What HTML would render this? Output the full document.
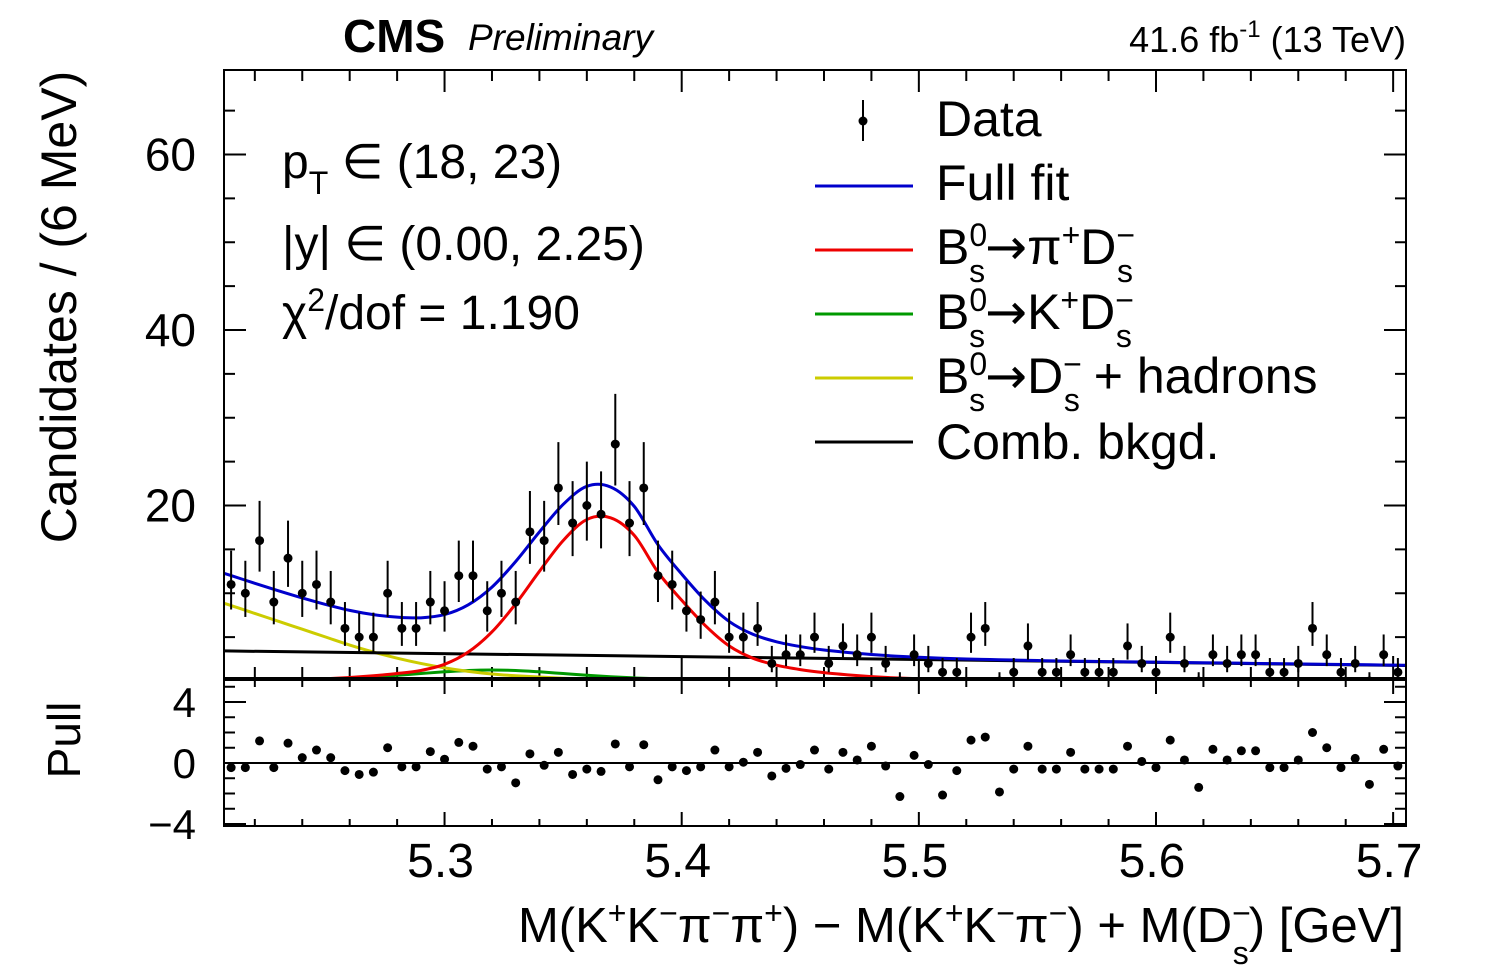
<!DOCTYPE html>
<html><head><meta charset="utf-8"><style>
body{margin:0;background:#fff;}
svg{display:block;font-family:"Liberation Sans",sans-serif;}
.arr{font-family:"DejaVu Sans",sans-serif;}
</style></head><body>
<svg id="chart" width="1496" height="972" viewBox="0 0 1496 972">
<defs><clipPath id="clipMain"><rect x="224" y="70" width="1182" height="608"/></clipPath>
<clipPath id="clipPull"><rect x="224" y="680" width="1182" height="146"/></clipPath></defs>
<g id="axes"></g>
<g id="curves" clip-path="url(#clipMain)"></g>
<g id="points" clip-path="url(#clipMain)"></g>
<g id="pulls" clip-path="url(#clipPull)"></g>
<rect x="224" y="70" width="1182" height="608" fill="none" stroke="#000" stroke-width="2"/>
<rect x="224" y="680" width="1182" height="146" fill="none" stroke="#000" stroke-width="2"/>
<line x1="224" y1="763" x2="1406" y2="763" stroke="#000" stroke-width="2"/>
<text x="343" y="52" font-size="46" font-weight="bold">CMS</text>
<text x="468" y="50" font-size="37" font-style="italic">Preliminary</text>
<text x="1406" y="52" font-size="36" text-anchor="end">41.6 fb<tspan dy="-15" font-size="24">-1</tspan><tspan dy="15"> (13 TeV)</tspan></text>
<text transform="translate(76,307) rotate(-90)" font-size="50" text-anchor="middle">Candidates / (6 MeV)</text>
<text transform="translate(80,740) rotate(-90)" font-size="46" text-anchor="middle">Pull</text>
<text x="1404" y="942" font-size="49" text-anchor="end">M(K<tspan dy="-18" font-size="32">+</tspan><tspan dy="18">K</tspan><tspan dy="-18" font-size="32">−</tspan><tspan dy="18">π</tspan><tspan dy="-18" font-size="32">−</tspan><tspan dy="18">π</tspan><tspan dy="-18" font-size="32">+</tspan><tspan dy="18">) − M(K</tspan><tspan dy="-18" font-size="32">+</tspan><tspan dy="18">K</tspan><tspan dy="-18" font-size="32">−</tspan><tspan dy="18">π</tspan><tspan dy="-18" font-size="32">−</tspan><tspan dy="18">) + M(D</tspan><tspan dy="-18" font-size="32">−</tspan><tspan dx="-18" dy="40" font-size="32">s</tspan><tspan dy="-22">) [GeV]</tspan></text>
<g font-size="48">
<text x="282" y="178">p<tspan dy="16" font-size="32">T</tspan><tspan dy="-16"> ∈ (18, 23)</tspan></text>
<text x="282" y="260">|y| ∈ (0.00, 2.25)</text>
<text x="282" y="329">χ<tspan dy="-18" font-size="32">2</tspan><tspan dy="18">/dof = 1.190</tspan></text>
</g>
<g font-size="50">
<g><line x1="863" y1="100" x2="863" y2="141" stroke="#000" stroke-width="2"/><circle cx="863" cy="121" r="4.5"/><text x="936" y="136">Data</text></g>
<g><line x1="815" y1="186" x2="913" y2="186" stroke="#0000cc" stroke-width="3"/><text x="936" y="200">Full fit</text></g>
<g><line x1="815" y1="250" x2="913" y2="250" stroke="#ee0000" stroke-width="3"/><text x="936" y="264">B<tspan dy="-18" font-size="32">0</tspan><tspan dx="-18" dy="36" font-size="32">s</tspan><tspan dy="-18" class="arr">→</tspan><tspan>π</tspan><tspan dy="-18" font-size="32">+</tspan><tspan dy="18">D</tspan><tspan dy="-18" font-size="32">−</tspan><tspan dx="-18" dy="36" font-size="32">s</tspan></text></g>
<g><line x1="815" y1="314" x2="913" y2="314" stroke="#009900" stroke-width="3"/><text x="936" y="329">B<tspan dy="-18" font-size="32">0</tspan><tspan dx="-18" dy="36" font-size="32">s</tspan><tspan dy="-18" class="arr">→</tspan><tspan>K</tspan><tspan dy="-18" font-size="32">+</tspan><tspan dy="18">D</tspan><tspan dy="-18" font-size="32">−</tspan><tspan dx="-18" dy="36" font-size="32">s</tspan></text></g>
<g><line x1="815" y1="378" x2="913" y2="378" stroke="#cccc00" stroke-width="3"/><text x="936" y="393">B<tspan dy="-18" font-size="32">0</tspan><tspan dx="-18" dy="36" font-size="32">s</tspan><tspan dy="-18" class="arr">→</tspan><tspan>D</tspan><tspan dy="-18" font-size="32">−</tspan><tspan dx="-18" dy="36" font-size="32">s</tspan><tspan dy="-18"> + hadrons</tspan></text></g>
<g><line x1="815" y1="442" x2="913" y2="442" stroke="#000" stroke-width="3"/><text x="936" y="459">Comb. bkgd.</text></g>
</g>
</svg>
<script>
const counts=[11,10,16,9,14,10,11,9,6,5,5,10,6,6,9,8,12,12,8,10,9,17,16,22,18,20,19,27,18,22,12,11,8,7,9,5,5,6,2,3,3,5,2,4,3,5,2,0,3,2,1,1,5,6,0,1,4,1,1,3,1,1,1,4,2,1,5,2,0,3,2,3,3,1,1,2,6,3,1,2,0,3,1];
const pulls=[-0.3,-0.3,1.45,-0.3,1.3,0.35,0.85,0.35,-0.5,-0.75,-0.6,1.0,-0.25,-0.25,0.75,0.25,1.35,1.1,-0.4,-0.25,-1.3,0.6,-0.15,0.7,-0.75,-0.4,-0.55,1.25,-0.25,1.2,-1.1,-0.25,-0.5,-0.25,0.85,-0.25,0.05,0.7,-0.85,-0.35,-0.1,0.85,-0.4,0.7,0.2,1.1,-0.2,-2.2,0.5,-0.1,-2.1,-0.5,1.5,1.7,-1.9,-0.4,1.1,-0.4,-0.4,0.7,-0.4,-0.4,-0.4,1.1,0.1,-0.3,1.5,0.2,-1.6,0.9,0.2,0.8,0.8,-0.3,-0.3,0.2,2.0,1.0,-0.3,0.3,-1.4,0.9,-0.2];
const curveMass=[5.20,5.21,5.22,5.23,5.24,5.25,5.26,5.27,5.28,5.29,5.30,5.31,5.32,5.33,5.34,5.35,5.36,5.37,5.38,5.39,5.40,5.41,5.42,5.43,5.44,5.45,5.46,5.47,5.48,5.49,5.50,5.51,5.52,5.53,5.54,5.55,5.56,5.57,5.58,5.59,5.60,5.61,5.62,5.63,5.64,5.65,5.66,5.67,5.68,5.69,5.70,5.71];
const sigPiDs=[0,0,0.03,0.08,0.15,0.25,0.4,0.6,0.85,1.2,1.9,3.3,5.6,8.8,12.5,16.0,18.4,18.6,16.6,12.4,9.2,6.3,4.0,2.6,1.8,1.3,0.95,0.7,0.5,0.35,0.25,0.18,0.13,0.1,0.07,0.05,0.03,0.03,0.03,0.03,0.03,0.03,0.03,0.03,0.03,0.03,0.03,0.03,0.03,0.03,0.03,0.03];
const sigKDs=[0,0,0.02,0.05,0.1,0.18,0.3,0.45,0.65,0.85,1.05,1.2,1.25,1.2,1.05,0.85,0.65,0.48,0.35,0.25,0.17,0.11,0.07,0.04,0.02,0.01,0,0,0,0,0,0,0,0,0,0,0,0,0,0,0,0,0,0,0,0,0,0,0,0,0,0];
const partReco=[9.4,8.6,7.7,6.8,5.9,5.0,4.1,3.3,2.6,2.0,1.5,1.1,0.8,0.6,0.45,0.32,0.22,0.15,0.1,0.06,0.03,0,0,0,0,0,0,0,0,0,0,0,0,0,0,0,0,0,0,0,0,0,0,0,0,0,0,0,0,0,0,0];
const combMass=[5.20,5.71];
const combVals=[3.45,1.75];
const yTicks=[20,40,60];
const xTicks=[5.3,5.4,5.5,5.6,5.7];
const pullTicks=[-4,0,4];

const NS="http://www.w3.org/2000/svg";
const X=m=>224+(m-5.207)/0.498*1181;
const Y=v=>681-v*8.775;
const P=p=>763-p*15.25;
function mk(tag,attrs,parent){const e=document.createElementNS(NS,tag);for(const k in attrs)e.setAttribute(k,attrs[k]);parent.appendChild(e);return e;}
const axes=document.getElementById('axes');
for(let v=0;v<=70;v+=5){const y=Y(v);if(y<70||y>678)continue;const L=(v%20===0)?22:11;
 const t1=mk('line',{x1:224,y1:y,x2:224+L,y2:y,stroke:'#000','stroke-width':2},axes);
 
 
 const t2=mk('line',{x1:1406-L,y1:y,x2:1406,y2:y,stroke:'#000','stroke-width':2},axes);
 
 }
yTicks.forEach(v=>{const t=mk('text',{x:196,y:Y(v)+16,'font-size':46,'text-anchor':'end'},axes);t.textContent=v;
 
 });
for(let k=0;k<=25;k++){const m=5.20+k*0.02;const x=X(m);if(x<224||x>1406)continue;const major=(k%5===0);
 [[678,major?-22:-11],[70,major?22:11],[826,major?-14:-7],[680,major?14:7]].forEach(([y0,d])=>{
  const t=mk('line',{x1:x,y1:y0,x2:x,y2:y0+d,stroke:'#000','stroke-width':2},axes);
  
  });}
xTicks.forEach(m=>{const t=mk('text',{x:X(m)-4,y:877,'font-size':48,'text-anchor':'middle'},axes);t.textContent=m.toFixed(1);
 
 });
for(let p=-4;p<=5;p++){const y=P(p);if(y<680||y>826)continue;const L=(p%4===0)?22:11;
 const t=mk('line',{x1:224,y1:y,x2:224+L,y2:y,stroke:'#000','stroke-width':2},axes);
 
 
 const t2=mk('line',{x1:1406-L,y1:y,x2:1406,y2:y,stroke:'#000','stroke-width':2},axes);
 
 }
pullTicks.forEach(p=>{const t=mk('text',{x:196,y:P(p)+15,'font-size':42,'text-anchor':'end'},axes);t.textContent=(p<0?'−':'')+Math.abs(p);
 
 });
function smooth(pts){let d='M'+pts[0][0]+','+pts[0][1];for(let i=0;i<pts.length-1;i++){const p0=pts[Math.max(0,i-1)],p1=pts[i],p2=pts[i+1],p3=pts[Math.min(pts.length-1,i+2)];
 d+=' C'+(p1[0]+(p2[0]-p0[0])/6)+','+(p1[1]+(p2[1]-p0[1])/6)+' '+(p2[0]-(p3[0]-p1[0])/6)+','+(p2[1]-(p3[1]-p1[1])/6)+' '+p2[0]+','+p2[1];}return d;}
const cg=document.getElementById('curves');
const combAt=m=>combVals[0]+(combVals[1]-combVals[0])*(m-combMass[0])/(combMass[1]-combMass[0]);
function drawCurve(vals,color,name){const pts=curveMass.map((m,i)=>[X(m),Y(vals[i])]);
 const p=mk('path',{d:smooth(pts),fill:'none',stroke:color,'stroke-width':3},cg);
 
 }
drawCurve(sigKDs,'#009900','curve-bs-k-ds');
drawCurve(partReco,'#cccc00','curve-bs-ds-hadrons');
const cl=mk('line',{x1:X(combMass[0]),y1:Y(combVals[0]),x2:X(combMass[1]),y2:Y(combVals[1]),stroke:'#000','stroke-width':3},cg);


drawCurve(sigPiDs,'#ee0000','curve-bs-pi-ds');
const full=curveMass.map((m,i)=>sigPiDs[i]+sigKDs[i]+partReco[i]+combAt(m));
drawCurve(full,'#0000cc','curve-full-fit');
const pg=document.getElementById('points');
counts.forEach((v,i)=>{const m=5.210+0.006*i;const x=X(m);const s=Math.sqrt(v+0.25);const up=v+0.5+s,lo=Math.max(0,v+0.5-s);
 const g=mk('g',{},pg);
 
 
 mk('line',{x1:x,y1:Y(up),x2:x,y2:Y(v===0?0:lo),stroke:'#000','stroke-width':2},g);
 mk('circle',{cx:x,cy:Y(v),r:4.5,fill:'#000'},g);});
const plg=document.getElementById('pulls');
pulls.forEach((p,i)=>{const m=5.210+0.006*i;
 const c=mk('circle',{cx:X(m),cy:P(p),r:4.5,fill:'#000'},plg);
 
 });
</script>
</body></html>
